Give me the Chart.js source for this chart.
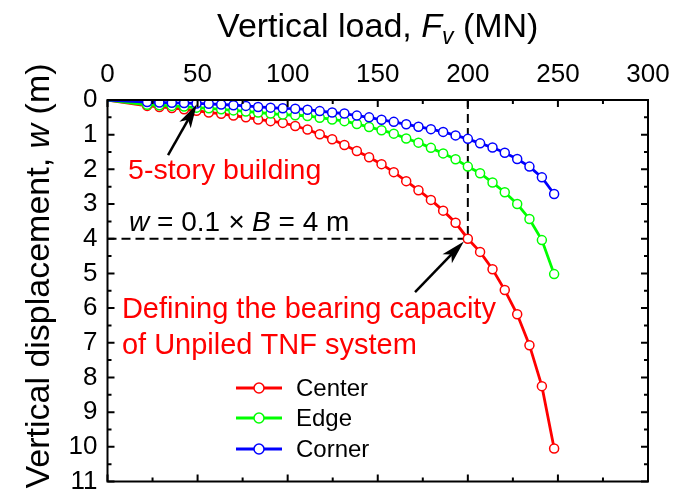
<!DOCTYPE html>
<html>
<head>
<meta charset="utf-8">
<script src="https://cdn.jsdelivr.net/npm/chart.js@4.4.0/dist/chart.umd.min.js"></script>
<style>
html, body { margin: 0; padding: 0; background: #fff; }
</style>
</head>
<body>
<canvas id="wykres" width="689" height="494"></canvas>
<script>
// load steps (MN) and settlement (m) of the three monitored points
const load = [0, 22, 28.8, 35.7, 42.5, 49.4, 56.2, 63.1, 69.9, 76.8, 83.6, 90.5, 97.3, 104.2, 111, 117.8, 124.7,
  131.5, 138.4, 145.2, 152.1, 158.9, 165.8, 172.6, 179.5, 186.3, 193.2, 200, 206.8, 213.7, 220.5, 227.4, 234.2, 241.1, 247.9];
const center = [0, 0.17, 0.20, 0.23, 0.27, 0.31, 0.36, 0.40, 0.45, 0.50, 0.56, 0.61, 0.66, 0.75, 0.85, 0.99, 1.13,
  1.30, 1.47, 1.65, 1.85, 2.08, 2.34, 2.60, 2.88, 3.19, 3.54, 4.00, 4.38, 4.88, 5.48, 6.18, 7.07, 8.25, 10.05];
const edge = [0, 0.14, 0.15, 0.17, 0.19, 0.22, 0.24, 0.27, 0.30, 0.33, 0.36, 0.39, 0.42, 0.44, 0.46, 0.51, 0.56,
  0.61, 0.69, 0.78, 0.87, 0.97, 1.11, 1.23, 1.38, 1.54, 1.71, 1.92, 2.11, 2.38, 2.66, 3.00, 3.43, 4.04, 5.02];
const corner = [0, 0.06, 0.07, 0.08, 0.09, 0.10, 0.11, 0.13, 0.15, 0.17, 0.20, 0.22, 0.24, 0.25, 0.28, 0.32, 0.36,
  0.39, 0.45, 0.50, 0.57, 0.63, 0.70, 0.77, 0.84, 0.92, 1.02, 1.12, 1.25, 1.37, 1.52, 1.70, 1.92, 2.23, 2.71];

const seriesNames = ["Center", "Edge", "Corner"];
const seriesColors = ["#ff0000", "#00ff00", "#0000ff"];
const xTicks = [0, 50, 100, 150, 200, 250, 300];
const yTicks = [0, 1, 2, 3, 4, 5, 6, 7, 8, 9, 10, 11];

// bearing capacity criterion: w = 0.1 x B at 200 MN
const limitLoad = 200;
const limitW = 4;

const fam = "'Liberation Sans', Arial, sans-serif";

function pts(ys) {
  return load.map((x, i) => ({ x: x, y: ys[i] }));
}

function serie(i, ys) {
  return {
    label: seriesNames[i],
    data: pts(ys),
    borderColor: seriesColors[i],
    backgroundColor: "#fff",
    borderWidth: 2.8,
    pointRadius: c => c.dataIndex === 0 ? 0 : 4.5,
    pointBorderWidth: 1.5,
    pointBackgroundColor: "#fff",
    pointBorderColor: seriesColors[i],
    tension: 0,
    order: 3 - i
  };
}

// text made of pieces with different font styles
function runs(ctx, x, y, parts, align) {
  let w = 0;
  parts.forEach(p => { ctx.font = p[1]; w += ctx.measureText(p[0]).width; });
  if (align === "center") x -= w / 2;
  parts.forEach(p => {
    ctx.font = p[1];
    ctx.fillText(p[0], x, y + (p[2] || 0));
    x += ctx.measureText(p[0]).width;
  });
}

function arrow(ctx, x1, y1, x2, y2) {
  const a = Math.atan2(y2 - y1, x2 - x1);
  const len = 24, half = 6.5;
  const c = Math.cos(a), s = Math.sin(a);
  ctx.beginPath();
  ctx.moveTo(x1, y1);
  ctx.lineTo(x2 - c * len * 0.7, y2 - s * len * 0.7);
  ctx.lineWidth = 2.5;
  ctx.stroke();
  ctx.beginPath();
  ctx.moveTo(x2, y2);
  ctx.lineTo(x2 - c * len + s * half, y2 - s * len - c * half);
  ctx.lineTo(x2 - c * len * 0.75, y2 - s * len * 0.75);
  ctx.lineTo(x2 - c * len - s * half, y2 - s * len + c * half);
  ctx.closePath();
  ctx.fill();
}

const decor = {
  id: "decor",
  beforeDatasetsDraw(chart) {
    const ctx = chart.ctx, xs = chart.scales.x, ys = chart.scales.y;
    const a = chart.chartArea;
    ctx.save();
    ctx.strokeStyle = "#000";
    ctx.lineWidth = 2;
    ctx.setLineDash([9, 5]);
    ctx.beginPath();
    ctx.moveTo(a.left, ys.getPixelForValue(limitW));
    ctx.lineTo(xs.getPixelForValue(limitLoad), ys.getPixelForValue(limitW));
    ctx.moveTo(xs.getPixelForValue(limitLoad), a.top);
    ctx.lineTo(xs.getPixelForValue(limitLoad), ys.getPixelForValue(limitW));
    ctx.stroke();
    ctx.restore();
  },
  afterDatasetsDraw(chart) {
    const ctx = chart.ctx, xs = chart.scales.x, ys = chart.scales.y;
    const a = chart.chartArea;
    const px = v => xs.getPixelForValue(v), py = v => ys.getPixelForValue(v);
    ctx.save();

    // frame with inward ticks on every side
    ctx.strokeStyle = "#000";
    ctx.lineWidth = 2;
    ctx.strokeRect(a.left, a.top, a.right - a.left, a.bottom - a.top);
    ctx.beginPath();
    for (let v = 0; v <= 300; v += 25) {
      const t = v % 50 === 0 ? 7 : 4, x = px(v);
      ctx.moveTo(x, a.top); ctx.lineTo(x, a.top + t);
      ctx.moveTo(x, a.bottom); ctx.lineTo(x, a.bottom - t);
    }
    for (let v = 0; v <= 11; v += 0.5) {
      const t = v % 1 === 0 ? 7 : 4, y = py(v);
      ctx.moveTo(a.left, y); ctx.lineTo(a.left + t, y);
      ctx.moveTo(a.right, y); ctx.lineTo(a.right - t, y);
    }
    ctx.stroke();

    // annotations
    ctx.fillStyle = "#ff0000";
    ctx.textBaseline = "alphabetic";
    ctx.textAlign = "left";
    ctx.font = "28.5px " + fam;
    ctx.fillText("5-story building", px(11.4), py(2.28));
    ctx.font = "29px " + fam;
    ctx.fillText("Defining the bearing capacity", px(8), py(6.29));
    ctx.fillText("of Unpiled TNF system", px(8), py(7.33));

    ctx.fillStyle = "#000";
    runs(ctx, px(12), py(3.78), [
      ["w", "italic 28px " + fam],
      [" = 0.1 ", "28px " + fam],
      ["\u00d7", "italic 28px " + fam],
      [" ", "28px " + fam],
      ["B", "italic 28px " + fam],
      [" = 4 m", "28px " + fam]
    ]);

    ctx.strokeStyle = "#000";
    arrow(ctx, px(33.6), py(1.59), px(49.6), py(0.12));
    arrow(ctx, px(170.7), py(5.54), px(197.8), py(4.08));

    // legend
    ctx.font = "24px " + fam;
    ctx.textBaseline = "middle";
    [388, 418, 449].forEach((y, i) => {
      ctx.strokeStyle = seriesColors[i];
      ctx.lineWidth = 2.8;
      ctx.beginPath();
      ctx.moveTo(236, y); ctx.lineTo(282, y);
      ctx.stroke();
      ctx.beginPath();
      ctx.arc(259, y, 5, 0, Math.PI * 2);
      ctx.fillStyle = "#fff";
      ctx.fill();
      ctx.lineWidth = 1.5;
      ctx.stroke();
      ctx.fillStyle = "#000";
      ctx.fillText(seriesNames[i], 296, y + 1);
    });

    // axis titles
    ctx.textBaseline = "alphabetic";
    ctx.fillStyle = "#000";
    runs(ctx, (a.left + a.right) / 2, 37, [
      ["Vertical load, ", "34px " + fam],
      ["F", "italic 34px " + fam],
      ["v", "italic 23px " + fam, 7],
      [" (MN)", "34px " + fam]
    ], "center");

    ctx.translate(49, 276);
    ctx.rotate(-Math.PI / 2);
    runs(ctx, 0, 0, [
      ["Vertical displacement, ", "34px " + fam],
      ["w", "italic 34px " + fam],
      [" (m)", "34px " + fam]
    ], "center");
    ctx.restore();
  }
};

new Chart(document.getElementById("wykres").getContext("2d"), {
  type: "line",
  data: {
    datasets: [serie(0, center), serie(1, edge), serie(2, corner)]
  },
  options: {
    responsive: false,
    animation: false,
    devicePixelRatio: 1,
    layout: { padding: { left: 0, top: 0, right: 41, bottom: 12.5 } },
    scales: {
      x: {
        type: "linear",
        position: "top",
        min: 0,
        max: 300,
        afterBuildTicks: s => { s.ticks = xTicks.map(v => ({ value: v })); },
        afterFit: s => { s.height = 100; s.paddingLeft = 0; s.paddingRight = 0; },
        ticks: { color: "#000", padding: 10, autoSkip: false, maxRotation: 0, font: { size: 26, family: fam } },
        grid: { display: false, drawTicks: false },
        border: { display: false }
      },
      y: {
        type: "linear",
        reverse: true,
        min: 0,
        max: 11,
        afterBuildTicks: s => { s.ticks = yTicks.map(v => ({ value: v })); },
        afterFit: s => { s.width = 107.5; s.paddingTop = 0; s.paddingBottom = 0; },
        ticks: { color: "#000", padding: 10, autoSkip: false, font: { size: 26, family: fam } },
        grid: { display: false, drawTicks: false },
        border: { display: false }
      }
    },
    plugins: {
      legend: { display: false },
      tooltip: { enabled: false }
    }
  },
  plugins: [decor]
});
</script>
</body>
</html>
